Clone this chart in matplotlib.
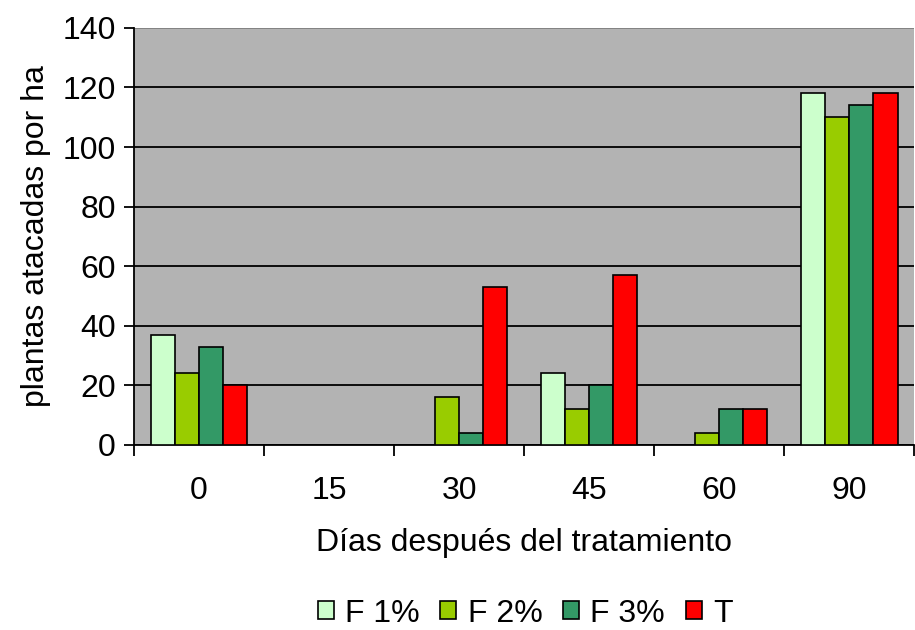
import matplotlib.pyplot as plt
import numpy as np

plt.rcParams['font.family'] = ['Liberation Sans', 'DejaVu Sans']

# Data
dias = ['0', '15', '30', '45', '60', '90']
f1 = [37, 0, 0, 24, 0, 118]
f2 = [24, 0, 16, 12, 4, 110]
f3 = [33, 0, 4, 20, 12, 114]
t = [20, 0, 53, 57, 12, 118]

series = [('F 1%', f1, '#ccffcc'), ('F 2%', f2, '#99cc00'),
          ('F 3%', f3, '#339966'), ('T', t, '#ff0000')]

fs = 23

fig = plt.figure(figsize=(9.15, 6.3), dpi=100)
ax = fig.add_axes([0.1464, 0.2937, 0.853, 0.662])
ax.set_facecolor('#b3b3b3')

x = np.arange(len(dias))
w = 0.185
for i, (name, vals, col) in enumerate(series):
    ax.bar(x + (i - 1.5) * w, vals, w, color=col, edgecolor='black',
           linewidth=1.2, label=name, zorder=3)

ax.set_xlim(-0.5, 5.5)
ax.set_ylim(0, 140)
ax.set_yticks(range(0, 141, 20))
ax.yaxis.grid(True, color='black', linewidth=1.3, zorder=1)
ax.set_axisbelow(True)
ax.get_ygridlines()[-1].set_color('#808080')

# group boundaries as ticks, labels in centres
ax.set_xticks(np.arange(-0.5, 6, 1))
ax.set_xticklabels([])
ax.set_xticks(x, minor=True)
ax.set_xticklabels(dias, minor=True)
ax.tick_params(axis='x', which='major', length=8, width=1.3, direction='out')
ax.tick_params(axis='x', which='minor', length=0, pad=22, labelsize=fs)
ax.tick_params(axis='y', length=7, width=1.3, labelsize=fs, pad=6)

for s in ['top', 'right']:
    ax.spines[s].set_visible(False)
ax.spines['left'].set_linewidth(1.3)
ax.spines['bottom'].set_linewidth(1.3)

ax.set_ylabel('plantas atacadas por ha', fontsize=fs, labelpad=8)
ax.set_xlabel('Días después del tratamiento', fontsize=fs, labelpad=16)

fig.legend(loc='center', bbox_to_anchor=(0.574, 0.026), ncol=4, frameon=False,
           fontsize=fs, handlelength=0.5, handleheight=0.5, handletextpad=0.35,
           columnspacing=0.65, borderpad=0)

plt.savefig('out.png', dpi=100)
